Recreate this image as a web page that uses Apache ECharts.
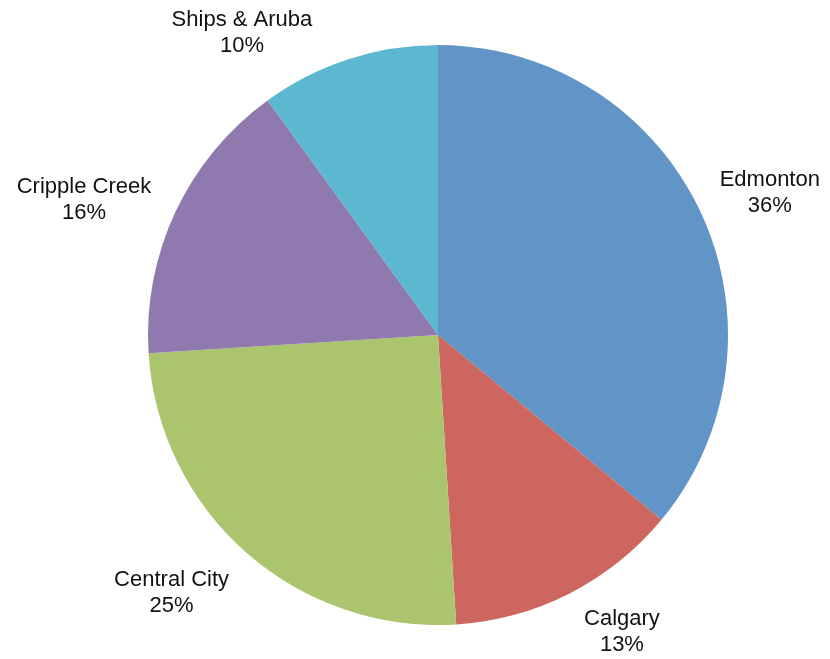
<!DOCTYPE html>
<html>
<head>
<meta charset="utf-8">
<script src="https://cdn.jsdelivr.net/npm/echarts@6/dist/echarts.min.js"></script>
<style>
  html, body { margin: 0; padding: 0; background: #ffffff; }
  #chart { width: 830px; height: 659px; }
</style>
</head>
<body>
<div id="chart"></div>
<script>
// Share of total by location (percent)
const categories = ['Edmonton', 'Calgary', 'Central City', 'Cripple Creek', 'Ships & Aruba'];
const shares = [36, 13, 25, 16, 10];
const sliceColors = ['#6195c8', '#cd665e', '#abc46e', '#9079af', '#5cb8d1'];

// Pie geometry
const PIE_CX = 438;
const PIE_CY = 335;
const PIE_R = 290;

// Label placement around the pie: polar angle (degrees, counter-clockwise
// from 3 o'clock) and distance beyond the rim for each category's label.
const labelAngle = [23.2, -58.2, -135.9, 159.1, 123.0];
const labelGap = [71, 59, 81, 89, 70];

const chart = echarts.init(document.getElementById('chart'), null, { renderer: 'canvas' });

chart.setOption({
  backgroundColor: '#ffffff',
  animation: false,
  series: [{
    type: 'pie',
    center: [PIE_CX, PIE_CY],
    radius: PIE_R,
    startAngle: 90,
    clockwise: true,
    data: categories.map((name, i) => ({
      name,
      value: shares[i],
      itemStyle: { color: sliceColors[i] }
    })),
    itemStyle: { borderWidth: 0 },
    label: {
      show: true,
      position: 'outside',
      formatter: p => p.name + '\n' + p.value + '%',
      fontFamily: 'Liberation Sans, Arial, sans-serif',
      fontSize: 22,
      lineHeight: 26,
      color: '#111111',
      align: 'center'
    },
    labelLine: { show: false, length: 12, length2: 0 },
    labelLayout: params => {
      const i = params.dataIndex;
      const a = labelAngle[i] * Math.PI / 180;
      const d = PIE_R + labelGap[i];
      return {
        x: PIE_CX + d * Math.cos(a),
        y: PIE_CY - d * Math.sin(a),
        align: 'center',
        verticalAlign: 'middle'
      };
    },
    emphasis: { disabled: true }
  }]
});
</script>
</body>
</html>
